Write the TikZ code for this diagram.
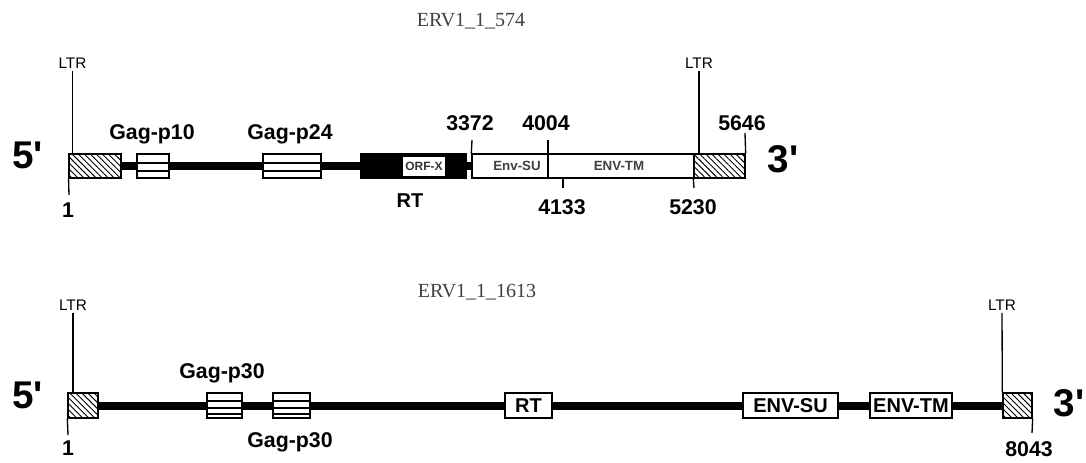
\documentclass[tikz,border=0pt]{standalone}
\usepackage{fontspec}
\setmainfont{Liberation Sans}
\newfontfamily\tnr{Liberation Serif}
\usetikzlibrary{patterns.meta,backgrounds}
\newcommand\fs[1]{\fontsize{#1}{#1}\selectfont}
\tikzset{
  lbl/.style={anchor=base, inner sep=0pt, font=\fs{16}\bfseries},
  ltrlbl/.style={anchor=base, inner sep=2pt, font=\fs{11.5}},
  prime/.style={anchor=base, inner sep=0pt, font=\fs{29}\bfseries},
  ttl/.style={anchor=base, inner sep=0pt, font=\fs{15}\tnr, text=black!75},
  thin/.style={line width=1pt},
  bb/.style={line width=6pt},
  boxa/.style={draw, line width=1pt, inner sep=0pt, minimum height=18pt, fill=white},
  boxb/.style={draw, line width=1pt, inner sep=0pt, minimum height=18.75pt, fill=white},
  hatch/.style={draw, line width=1pt, inner sep=0pt, pattern={Lines[angle=-45,distance=3.2pt,line width=0.7pt]}},
  gagA/.style={boxa, path picture={
     \draw[line width=0.9pt] ([yshift=-6.75pt]path picture bounding box.north west) -- ([yshift=-6.75pt]path picture bounding box.north east);
     \draw[line width=0.9pt] ([yshift=-12.75pt]path picture bounding box.north west) -- ([yshift=-12.75pt]path picture bounding box.north east);}},
  gagB/.style={boxb, path picture={
     \draw[line width=0.9pt] ([yshift=-6pt]path picture bounding box.north west) -- ([yshift=-6pt]path picture bounding box.north east);
     \draw[line width=0.9pt] ([yshift=-11.25pt]path picture bounding box.north west) -- ([yshift=-11.25pt]path picture bounding box.north east);
     \draw[line width=0.9pt] ([yshift=-15.75pt]path picture bounding box.north west) -- ([yshift=-15.75pt]path picture bounding box.north east);}},
}
\begin{document}
\begin{tikzpicture}[x=0.75pt,y=-0.75pt]
\useasboundingbox (0,0) rectangle (1086,462);

% ---------------- top : ERV1_1_574 ----------------
\node[ttl] (t1) at (471,26) {ERV1\_1\_574};
\node[prime] (p5a) at (27.5,168) {5\textquotesingle};
\node[prime] (p3a) at (783,172) {3\textquotesingle};

\node[hatch, minimum width=39pt, minimum height=18pt] (ltrL) at (95,166) {};
\node[gagA, minimum width=24pt] (g1) at (153,166) {};
\node[gagA, minimum width=43.5pt] (g2) at (292,166) {};
\node[draw, line width=1pt, fill=black, inner sep=0pt, minimum width=78.75pt, minimum height=18pt] (rt) at (413.5,166) {};
\node[fill=white, inner sep=0pt, minimum width=31.5pt, minimum height=14.25pt, font=\fs{9}\bfseries, text=black!80] (orf) at (424,166.5) {ORF-X};
\node[boxa, minimum width=166.5pt] (env) at (583,166) {};
\node[hatch, minimum width=38.25pt, minimum height=18pt] (ltrR) at (719.5,166) {};
\node[inner sep=0pt, font=\fs{10}\bfseries, text=black!75] (su) at (517,166) {Env-SU};
\node[inner sep=0pt, font=\fs{10}\bfseries, text=black!75] (tm) at (619,166) {ENV-TM};

\begin{scope}[on background layer]
  \draw[bb] (ltrL.east) -- (rt.west);
  \draw[bb] (rt.east) -- (env.west);
\end{scope}

\node[lbl] (lg1) at (152,139) {Gag-p10};
\node[lbl] (lg2) at (290,139) {Gag-p24};
\node[lbl, font=\fs{15}\bfseries] (lrt) at (410,207) {RT};

\node[ltrlbl] (ltr1) at (72.5,68) {LTR};
\node[ltrlbl] (ltr2) at (699,68) {LTR};
\draw[thin] (ltr1.south) -- (ltr1.south |- ltrL.north);
\draw[thin] (ltr2.south) -- (ltr2.south |- ltrR.north);

\node[lbl] (n1) at (68,217) {1};
\node[lbl] (n3372) at (470,130) {3372};
\node[lbl] (n4004) at (546,130) {4004};
\node[lbl] (n5646) at (742,130) {5646};
\node[lbl] (n4133) at (562,214) {4133};
\node[lbl] (n5230) at (693,214) {5230};

\coordinate (c1) at (69,195);
\coordinate (c3372) at (472,140);
\coordinate (c4004) at (548,140);
\coordinate (c5646) at (745,133);
\coordinate (c4133) at (563,188);
\coordinate (c5230) at (694,188);
\draw[thin] (ltrL.south west) -- (c1);
\draw[thin] (env.north west) -- (c3372);
\draw[thin] (c4004) -- (c4004 |- env.south);
\draw[thin] (ltrR.north east) -- (c5646);
\draw[thin] (c4133 |- env.south) -- (c4133);
\draw[thin] (ltrR.south west) -- (c5230);

% ---------------- bottom : ERV1_1_1613 ----------------
\node[ttl] (t2) at (477,297) {ERV1\_1\_1613};
\node[prime] (p5b) at (27.5,408) {5\textquotesingle};
\node[prime] (p3b) at (1069,416) {3\textquotesingle};

\node[hatch, minimum width=22.5pt, minimum height=18.75pt] (ltrL2) at (83,405.5) {};
\node[gagB, minimum width=26.25pt] (g3) at (224.5,405.5) {};
\node[gagB, minimum width=27.75pt] (g4) at (291.5,405.5) {};
\node[boxb, minimum width=35.25pt, font=\fs{15}\bfseries] (rt2) at (528.5,405.5) {RT};
\node[boxb, minimum width=71.25pt, font=\fs{15}\bfseries] (su2) at (790.5,405.5) {ENV-SU};
\node[boxb, minimum width=61.5pt, font=\fs{15}\bfseries] (tm2) at (911,405.5) {ENV-TM};
\node[hatch, minimum width=21.75pt, minimum height=18.75pt] (ltrR2) at (1017.5,405.5) {};

\begin{scope}[on background layer]
  \draw[bb] (ltrL2.east) -- (ltrR2.west);
\end{scope}

\node[lbl] (lg3) at (222,378) {Gag-p30};
\node[lbl] (lg4) at (290,447) {Gag-p30};

\node[ltrlbl] (ltr3) at (73,310) {LTR};
\node[ltrlbl] (ltr4) at (1002,310) {LTR};
\draw[thin] (ltr3.south) -- (ltr3.south |- ltrL2.north);
\draw[thin] (ltr4.south) -- (ltrR2.north west);

\node[lbl] (n1b) at (68,455) {1};
\node[lbl] (n8043) at (1029,456) {8043};
\coordinate (c1b) at (68,435);
\coordinate (c8043) at (1032,433);
\draw[thin] (ltrL2.south west) -- (c1b);
\draw[thin] (ltrR2.south east) -- (c8043);
\end{tikzpicture}
\end{document}
